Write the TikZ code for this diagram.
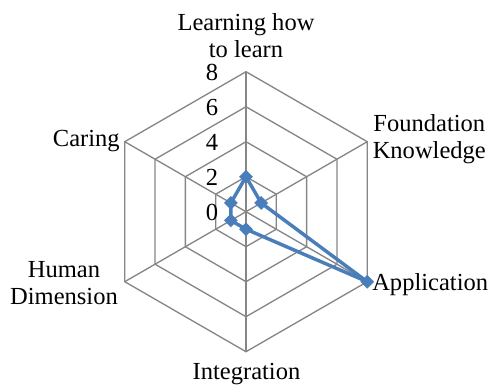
\documentclass[tikz,border=0pt]{standalone}
\usepackage{fontspec}
\setmainfont{Liberation Serif}
\usetikzlibrary{shapes.geometric}
\definecolor{gridgray}{RGB}{134,134,134}
\definecolor{serblue}{RGB}{74,126,187}
\begin{document}
\begin{tikzpicture}[x=0.75pt,y=0.75pt,
  gridline/.style={draw=gridgray,line width=1pt},
  lbl/.style={font=\fontsize{18.4}{20.25}\selectfont, inner sep=0pt, align=center},
  ticklbl/.style={font=\fontsize{18.4}{20}\selectfont, inner sep=0pt, anchor=east},
  mk/.style={diamond, fill=serblue, minimum size=10.5pt, inner sep=0pt},
  ser/.style={draw=serblue, line width=2.6pt, line join=round}]
\useasboundingbox (0,0) rectangle (492,387);
\begin{scope}[shift={(246,175.3)}]
  \coordinate (C) at (0,0);
  \foreach \k in {1,...,4} {
    \pgfmathsetmacro{\r}{35*\k}
    \draw[gridline] (90:\r) -- (30:\r) -- (-30:\r) -- (-90:\r) -- (-150:\r) -- (150:\r) -- cycle;
  }
  \foreach \a in {90,30,-30,-90,-150,150} {
    \draw[gridline] (C) -- (\a:140);
  }
  \foreach \k in {0,...,4} {
    \pgfmathtruncatemacro{\v}{2*\k}
    \node[ticklbl] (t\k) at (-27.5,35*\k-0.8) {\v};
  }
  \coordinate (p1) at (90:35);
  \coordinate (p2) at (30:17.5);
  \coordinate (p3) at (-30:140);
  \coordinate (p4) at (-90:17.5);
  \coordinate (p5) at (-150:17.5);
  \coordinate (p6) at (150:17.5);
  \draw[ser] (p1) -- (p2) -- (p3) -- (p4) -- (p5) -- (p6) -- cycle;
  \foreach \i in {1,...,6} { \node[mk] (m\i) at (p\i) {}; }
\end{scope}
\node[lbl, anchor=base] (learn) at (246,330) {Learning how\\to learn};
\node[lbl, anchor=base] (found) at (429.3,229) {Foundation\\Knowledge};
\node[lbl, anchor=base west] (appl) at (372,97) {Application};
\node[lbl, anchor=base] (integ) at (246.5,8) {Integration};
\node[lbl, anchor=base] (human) at (64,83) {Human\\Dimension};
\node[lbl, anchor=base east] (caring) at (120,240.3) {Caring};
\end{tikzpicture}
\end{document}
